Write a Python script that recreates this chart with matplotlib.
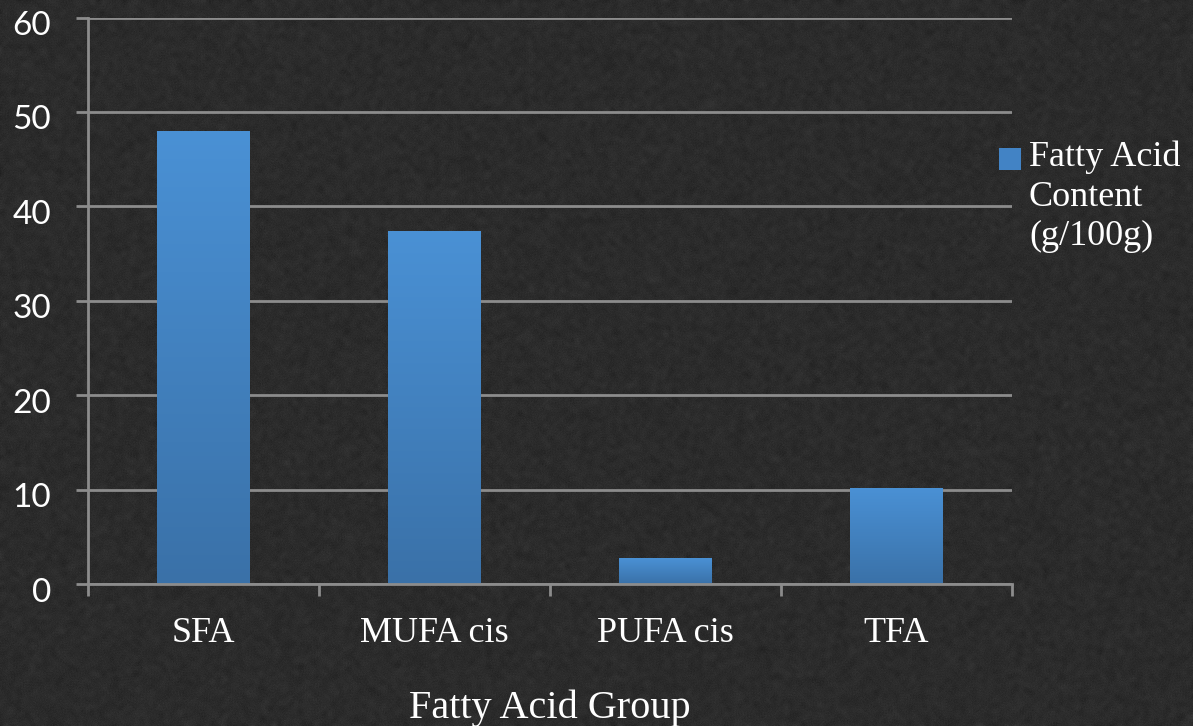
import numpy as np
import matplotlib
matplotlib.use("Agg")
import matplotlib.pyplot as plt
from matplotlib.patches import Rectangle
from matplotlib.colors import LinearSegmentedColormap
from matplotlib.transforms import ScaledTranslation

# Fatty acid composition
categories = ["SFA", "MUFA cis", "PUFA cis", "TFA"]
values = [48.0, 37.4, 2.75, 10.2]
y_ticks = [0, 10, 20, 30, 40, 50, 60]
series_label = "Fatty Acid\nContent\n(g/100g)"
x_label = "Fatty Acid Group"

W, H, DPI = 1193, 726, 100
BG = "#2a2a2a"
GRID = "#8c8c8c"
TEXT = "#ffffff"
BAR_TOP = "#4a91d5"
BAR_BOTTOM = "#3a71a8"
SERIF = ["Liberation Serif", "DejaVu Serif"]

fig = plt.figure(figsize=(W / DPI, H / DPI), dpi=DPI, facecolor=BG)

# chalkboard texture behind everything
rng = np.random.default_rng(7)
noise = rng.normal(0, 1, (H, W))
k = 3
pad = np.pad(noise, k, mode="edge")
smooth = np.zeros_like(noise)
for dy in range(-k, k + 1):
    for dx in range(-k, k + 1):
        smooth += pad[k + dy:k + dy + H, k + dx:k + dx + W]
smooth /= (2 * k + 1) ** 2
tex = 0.17 + smooth * 0.04 + noise * 0.008
tex = np.clip(tex, 0, 1)
fig.figimage(np.dstack([tex, tex, tex]), xo=0, yo=0, origin="upper", zorder=-10)

left, right = 88 / W, 1012 / W
bottom, top = (H - 584) / H, (H - 17.5) / H
ax = fig.add_axes([left, bottom, right - left, top - bottom])
ax.set_facecolor("none")

x = np.arange(len(categories))
bars = ax.bar(x, values, width=0.4, color=BAR_TOP, zorder=3, linewidth=0)

cmap = LinearSegmentedColormap.from_list("barfade", [BAR_BOTTOM, BAR_TOP])
grad = np.linspace(0, 1, 256).reshape(-1, 1)
for b in bars:
    x0, y0 = b.get_x(), b.get_y()
    w, h = b.get_width(), b.get_height()
    im = ax.imshow(grad, cmap=cmap, origin="lower", aspect="auto",
                   extent=(x0, x0 + w, y0, y0 + h), zorder=4,
                   interpolation="bilinear")
    im.set_clip_path(b)

ax.set_xlim(-0.5, len(categories) - 0.5)
ax.set_ylim(0, 60)

# y axis
ax.set_yticks(y_ticks)
ax.set_yticklabels([str(v) for v in y_ticks], fontsize=24, color=TEXT,
                   family=["Lato", "DejaVu Sans"])
ax.yaxis.grid(True, color=GRID, linewidth=2, zorder=1)
ax.tick_params(axis="y", length=8.6, width=2, color=GRID, pad=18)
shift = ScaledTranslation(0, -4 / 72, fig.dpi_scale_trans)
for lab in ax.get_yticklabels():
    lab.set_transform(lab.get_transform() + shift)

# x axis: ticks at category boundaries, labels centred under bars
ax.set_xticks(np.arange(len(categories) + 1) - 0.5)
ax.set_xticklabels([])
ax.set_xticks(x, minor=True)
ax.set_xticklabels(categories, minor=True, fontsize=26, color=TEXT, family=SERIF)
ax.tick_params(axis="x", which="major", length=8.6, width=2, color=GRID)
ax.tick_params(axis="x", which="minor", length=0, pad=24)

for side in ("top", "right"):
    ax.spines[side].set_visible(False)
for side in ("left", "bottom"):
    ax.spines[side].set_color(GRID)
    ax.spines[side].set_linewidth(2)
    ax.spines[side].set_zorder(5)

ax.set_xlabel(x_label, fontsize=29, color=TEXT, family=SERIF, labelpad=28)

# series key on the right
fig.patches.append(Rectangle((999 / W, 1 - 170 / H), 22 / W, 22 / H,
                             transform=fig.transFigure, facecolor="#4283c5",
                             edgecolor="none", zorder=3))
fig.text(1029 / W, 1 - 141 / H, series_label, ha="left", va="top",
         fontsize=26, color=TEXT, family=SERIF, linespacing=1.25)

fig.savefig("out.png", dpi=DPI, facecolor=BG)
